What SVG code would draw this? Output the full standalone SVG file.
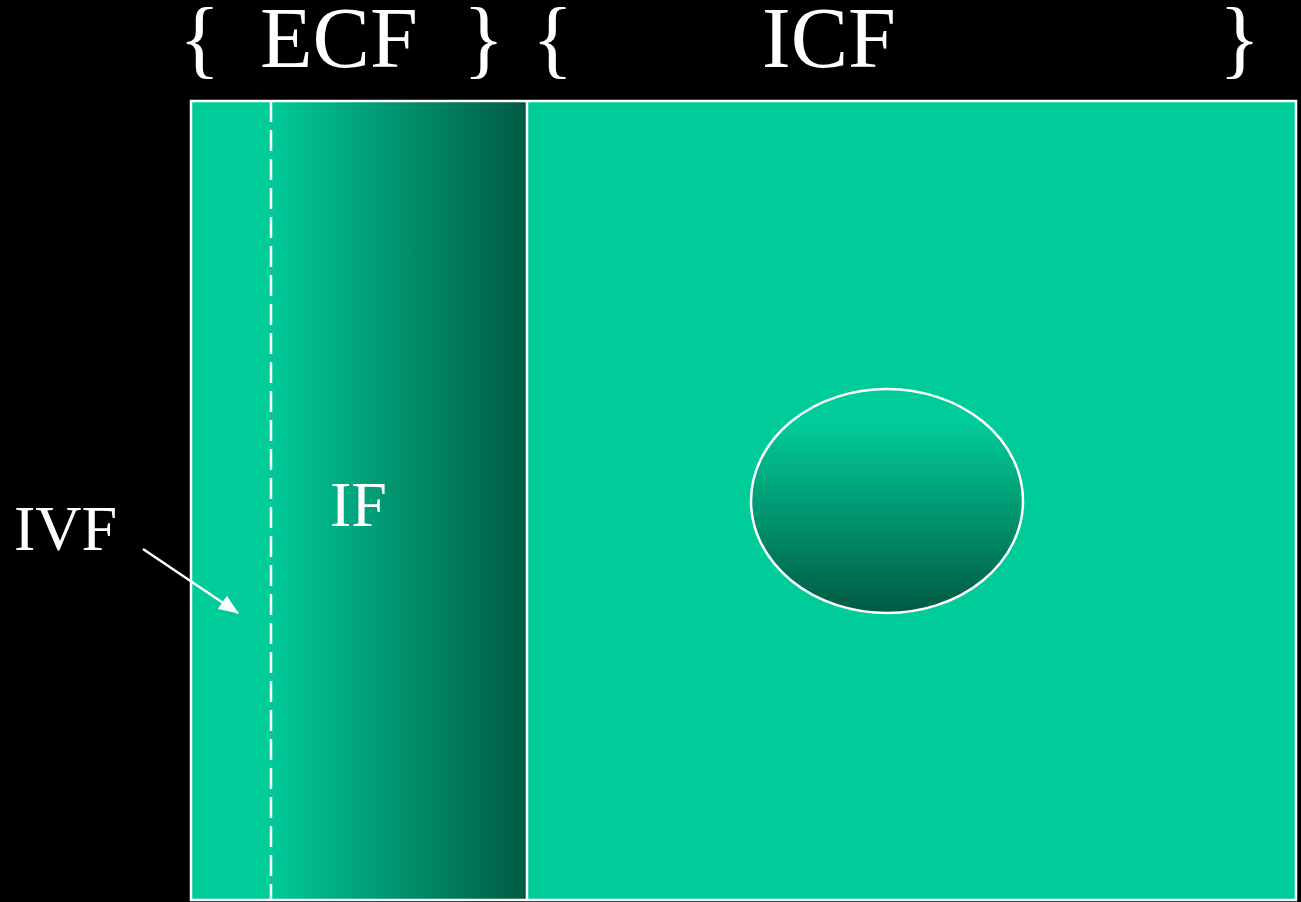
<svg xmlns="http://www.w3.org/2000/svg" width="1301" height="902" viewBox="0 0 1301 902">
<style>
.t{font-family:"Liberation Serif","Times New Roman",serif;fill:#ffffff}
.big{font-size:86px}
.mid{font-size:64px}
.ln{stroke:#ffffff;fill:none}
</style>
<defs>
<linearGradient id="gIF" x1="0" y1="0" x2="1" y2="0">
<stop offset="0" stop-color="#00CA98"/>
<stop offset="1" stop-color="#005A43"/>
</linearGradient>
<linearGradient id="gCell" x1="0" y1="0" x2="0" y2="1">
<stop offset="0.15" stop-color="#00CC99"/>
<stop offset="1" stop-color="#005A43"/>
</linearGradient>
<marker id="ah2" viewBox="0 0 20 16" refX="19" refY="8" markerWidth="20" markerHeight="16" orient="auto" markerUnits="userSpaceOnUse">
<path d="M0,0 L20,8 L0,16 Z" fill="#ffffff"/>
</marker>
</defs>
<rect x="0" y="0" width="1301" height="902" fill="#000000"/>
<g id="body">
<rect x="191" y="101" width="1105" height="799" fill="#00CC99"/>
</g>
<g id="IF">
<rect x="271" y="102" width="256" height="797" fill="url(#gIF)"/>
<text class="t mid" x="330" y="526">IF</text>
</g>
<g id="ICF-region">
<rect x="527" y="101" width="769" height="799" fill="#00CC99"/>
</g>
<g id="cell">
<ellipse cx="887" cy="501" rx="136" ry="112" fill="url(#gCell)" stroke="#ffffff" stroke-width="2.5"/>
</g>
<g id="outline">
<rect x="191" y="101" width="1105" height="799" class="ln" stroke-width="2.5"/>
<line x1="527" y1="101" x2="527" y2="900" class="ln" stroke-width="2.5"/>
</g>
<g id="connectors">
<line x1="271" y1="101" x2="271" y2="900" class="ln" stroke-width="2.5" stroke-dasharray="21 8"/>
<line x1="143" y1="549" x2="238" y2="613" class="ln" stroke-width="2.5" marker-end="url(#ah2)"/>
</g>
<g id="IVF">
<text class="t mid" x="14" y="550">IVF</text>
</g>
<g id="ECF">
<text class="t big" x="179" y="67">{</text>
<text class="t big" x="260" y="67">ECF</text>
<text class="t big" x="463" y="67">}</text>
</g>
<g id="ICF">
<text class="t big" x="532" y="67">{</text>
<text class="t big" x="762" y="67">ICF</text>
<text class="t big" x="1219" y="67">}</text>
</g>
</svg>
